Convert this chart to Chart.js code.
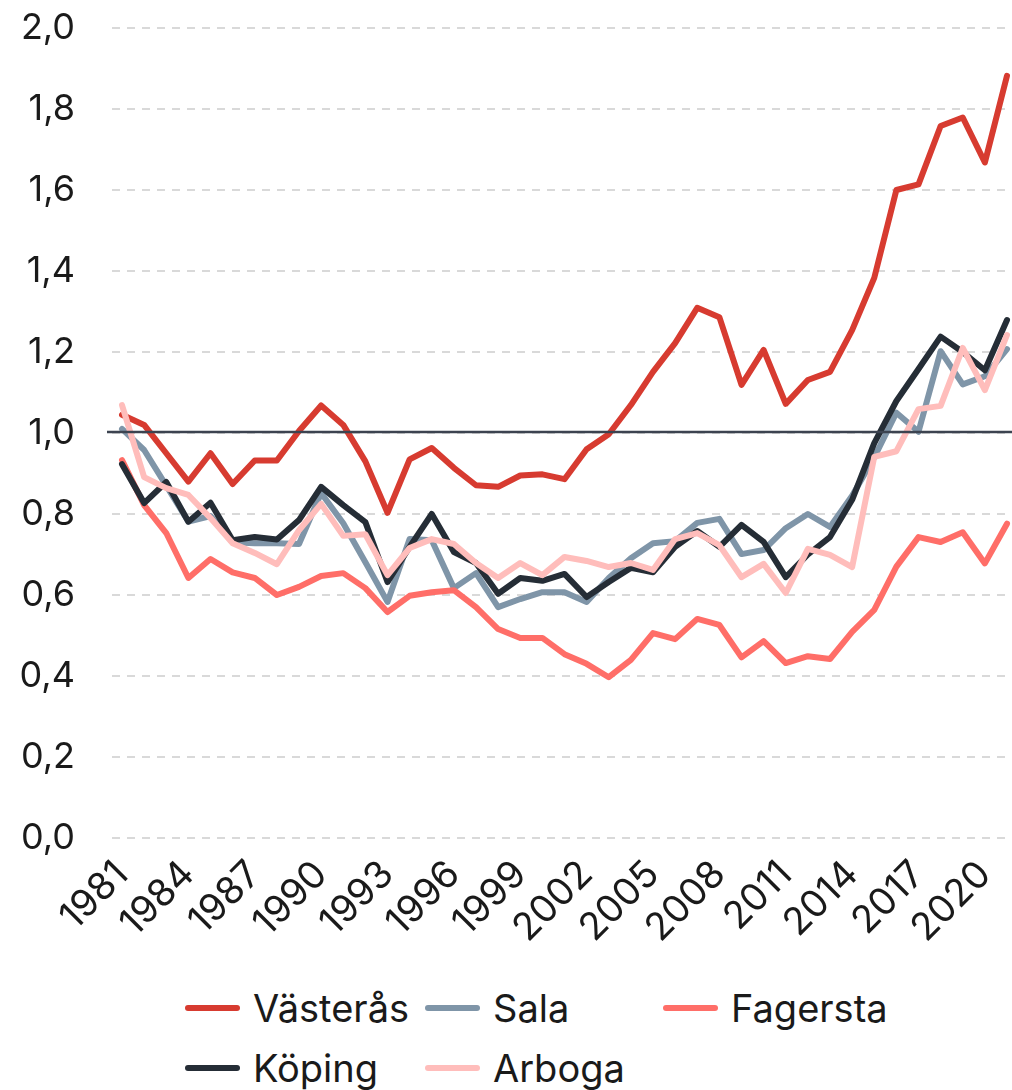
<!DOCTYPE html>
<html>
<head>
<meta charset="utf-8">
<script src="https://cdn.jsdelivr.net/npm/chart.js@4/dist/chart.umd.min.js"></script>
<style>
  html, body { margin: 0; padding: 0; background: #fff; }
  #wrap { position: relative; width: 1012px; height: 1090px; overflow: hidden; }
  #c { position: absolute; left: 0; top: 0; }
  #legend { position: absolute; left: 185px; top: 978px; display: grid; grid-template-columns: 240px 238px 240px; row-gap: 0; }
  .item { display: flex; align-items: center; height: 60px; font-family: Inter, "Noto Sans", sans-serif; font-size: 38px; color: #1a1a1a; white-space: nowrap; }
  .swatch { width: 55px; height: 6px; border-radius: 3px; margin-right: 13px; flex: none; }
</style>
</head>
<body>
<div id="wrap">
  <canvas id="c" width="1012" height="960"></canvas>
  <div id="legend"></div>
</div>
<script>
const years = [];
for (let y = 1981; y <= 2021; y++) years.push(y);

const tickYears = [1981, 1984, 1987, 1990, 1993, 1996, 1999, 2002, 2005, 2008, 2011, 2014, 2017, 2020];
const yTicks = [0, 0.2, 0.4, 0.6, 0.8, 1.0, 1.2, 1.4, 1.6, 1.8, 2.0];
const refValue = 1.0;

const vasteras = [1.045, 1.02, 0.95, 0.88, 0.95, 0.874, 0.932, 0.932, 1.005, 1.068,
  1.02, 0.93, 0.803, 0.935, 0.963, 0.914, 0.871, 0.867, 0.895, 0.898,
  0.886, 0.96, 0.997, 1.069, 1.151, 1.222, 1.309, 1.286, 1.119, 1.205,
  1.072, 1.131, 1.151, 1.254, 1.383, 1.6, 1.614, 1.758, 1.779, 1.668, 1.882];
const sala = [1.01, 0.958, 0.87, 0.781, 0.795, 0.73, 0.728, 0.728, 0.726, 0.852,
  0.777, 0.681, 0.583, 0.738, 0.735, 0.617, 0.654, 0.57, 0.59, 0.607,
  0.607, 0.583, 0.642, 0.691, 0.728, 0.733, 0.778, 0.788, 0.701, 0.711,
  0.765, 0.8, 0.768, 0.845, 0.94, 1.05, 1.003, 1.202, 1.12, 1.14, 1.207];
const fagersta = [0.933, 0.822, 0.753, 0.642, 0.689, 0.656, 0.642, 0.6, 0.62, 0.647,
  0.654, 0.617, 0.558, 0.598, 0.607, 0.612, 0.57, 0.516, 0.494, 0.494,
  0.454, 0.43, 0.397, 0.44, 0.506, 0.491, 0.541, 0.526, 0.446, 0.486,
  0.432, 0.449, 0.442, 0.509, 0.563, 0.67, 0.743, 0.731, 0.755, 0.678, 0.776];
const koping = [0.923, 0.827, 0.879, 0.781, 0.828, 0.735, 0.743, 0.737, 0.785, 0.867,
  0.822, 0.78, 0.632, 0.719, 0.80, 0.706, 0.679, 0.603, 0.642, 0.635,
  0.652, 0.595, 0.632, 0.667, 0.656, 0.719, 0.758, 0.719, 0.773, 0.731,
  0.644, 0.70, 0.743, 0.835, 0.975, 1.079, 1.158, 1.238, 1.2, 1.155, 1.279];
const arboga = [1.069, 0.891, 0.864, 0.847, 0.79, 0.728, 0.704, 0.676, 0.76, 0.825,
  0.746, 0.75, 0.649, 0.716, 0.738, 0.726, 0.679, 0.642, 0.679, 0.649,
  0.694, 0.684, 0.669, 0.679, 0.662, 0.738, 0.753, 0.723, 0.644, 0.677,
  0.605, 0.714, 0.699, 0.669, 0.941, 0.955, 1.059, 1.067, 1.21, 1.106, 1.242];

const seriesNames = ['Västerås', 'Sala', 'Fagersta', 'Köping', 'Arboga'];
const seriesData = [vasteras, sala, fagersta, koping, arboga];
const seriesColors = ['#d73b30', '#7f95a8', '#ff6e68', '#252d36', '#ffbdbb'];

const FONT = 'Inter, "Noto Sans", sans-serif';
const TEXT = '#1a1a1a';

const datasets = seriesNames.map((name, k) => ({
  label: name,
  data: years.map((yr, i) => ({ x: yr, y: seriesData[k][i] })),
  borderColor: seriesColors[k],
  backgroundColor: seriesColors[k],
  borderWidth: 6,
  pointRadius: 0,
  pointHoverRadius: 0,
  tension: 0,
  fill: false,
  borderJoinStyle: 'round',
  borderCapStyle: 'round',
  order: seriesNames.length - k
}));

const refLine = {
  id: 'refLine',
  afterDatasetsDraw(chart) {
    const { ctx, chartArea, scales } = chart;
    const y = scales.y.getPixelForValue(refValue) - 1;
    ctx.save();
    ctx.strokeStyle = '#3c4350';
    ctx.lineWidth = 2.5;
    ctx.beginPath();
    ctx.moveTo(chartArea.left - 5, y);
    ctx.lineTo(chartArea.right, y);
    ctx.stroke();
    ctx.restore();
  }
};

const chart = new Chart(document.getElementById('c'), {
  type: 'line',
  data: { datasets },
  plugins: [refLine],
  options: {
    responsive: false,
    animation: false,
    devicePixelRatio: 1,
    layout: { padding: { top: 28, right: 0, bottom: 0, left: 0 } },
    plugins: { legend: { display: false }, tooltip: { enabled: false } },
    scales: {
      x: {
        type: 'linear',
        min: 1980.548,
        max: 2021.226,
        afterBuildTicks(scale) { scale.ticks = tickYears.map(v => ({ value: v })); },
        afterFit(scale) { scale.height = 122; scale.paddingLeft = 0; scale.paddingRight = 0; },
        grid: { display: false },
        border: { display: false },
        ticks: {
          autoSkip: false,
          minRotation: 45,
          maxRotation: 45,
          padding: 6,
          color: TEXT,
          font: { family: FONT, size: 38 },
          callback: v => String(v)
        }
      },
      y: {
        min: 0,
        max: 2,
        afterBuildTicks(scale) { scale.ticks = yTicks.map(v => ({ value: v })); },
        afterFit(scale) { scale.width = 112; scale.paddingTop = 0; scale.paddingBottom = 0; },
        grid: {
          color: '#d9d9d9',
          lineWidth: 2,
          drawTicks: false,
          tickLength: 0
        },
        border: { display: false, dash: [8, 7] },
        ticks: {
          padding: 37,
          color: TEXT,
          font: { family: FONT, size: 36 },
          callback: v => v.toFixed(1).replace('.', ',')
        }
      }
    }
  }
});

// HTML legend built from the chart's datasets
const legendEl = document.getElementById('legend');
chart.data.datasets.forEach(ds => {
  const item = document.createElement('div');
  item.className = 'item';
  const sw = document.createElement('span');
  sw.className = 'swatch';
  sw.style.background = ds.borderColor;
  const txt = document.createElement('span');
  txt.textContent = ds.label;
  item.appendChild(sw);
  item.appendChild(txt);
  legendEl.appendChild(item);
});
</script>
</body>
</html>
